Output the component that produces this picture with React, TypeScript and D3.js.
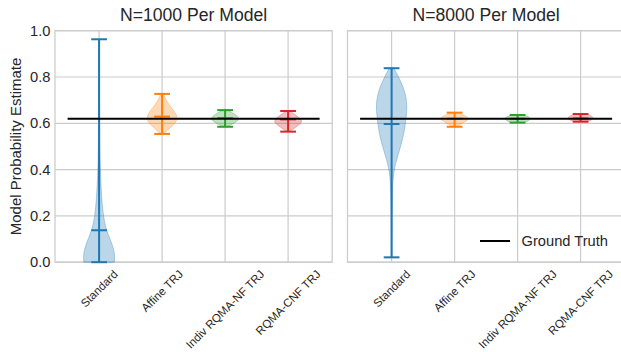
import React, { useRef, useEffect } from 'react'
import * as d3 from 'd3'

// category names and panel titles
const categories = ['Standard', 'Affine TRJ', 'Indiv RQMA-NF TRJ', 'RQMA-CNF TRJ']
const panelTitles = ['N=1000 Per Model', 'N=8000 Per Model']
const colors = ['#1f77b4', '#ff7f0e', '#2ca02c', '#d62728']
const yTicks = [0, 0.2, 0.4, 0.6, 0.8, 1.0]
const groundTruth = 0.62

// per model summary values
const minsN1000 = [0.0, 0.554, 0.585, 0.564]
const maxsN1000 = [0.963, 0.727, 0.657, 0.653]
const mediansN1000 = [0.138, 0.629, 0.622, 0.617]
const minsN8000 = [0.021, 0.585, 0.603, 0.607]
const maxsN8000 = [0.838, 0.646, 0.636, 0.64]
const mediansN8000 = [0.597, 0.62, 0.62, 0.621]

// violin outlines: [value, relative width]
const profilesN1000 = [
  [[0, 0.97], [0.03, 1], [0.06, 0.92], [0.1, 0.7], [0.14, 0.45], [0.2, 0.27], [0.28, 0.16], [0.36, 0.1], [0.45, 0.06], [0.55, 0.04], [0.7, 0.025], [0.85, 0.02], [0.963, 0.015]],
  [[0.554, 0.1], [0.58, 0.5], [0.6, 0.85], [0.625, 1], [0.65, 0.8], [0.675, 0.5], [0.7, 0.25], [0.727, 0.08]],
  [[0.585, 0.15], [0.6, 0.55], [0.62, 1], [0.64, 0.6], [0.657, 0.15]],
  [[0.564, 0.1], [0.585, 0.5], [0.607, 1], [0.63, 0.6], [0.653, 0.12]],
]
const profilesN8000 = [
  [[0.021, 0.02], [0.15, 0.03], [0.3, 0.05], [0.38, 0.1], [0.44, 0.3], [0.5, 0.58], [0.56, 0.8], [0.62, 0.92], [0.68, 1], [0.74, 0.85], [0.8, 0.45], [0.838, 0.15]],
  [[0.585, 0.15], [0.605, 0.6], [0.62, 1], [0.635, 0.6], [0.646, 0.15]],
  [[0.603, 0.4], [0.62, 1], [0.636, 0.4]],
  [[0.607, 0.4], [0.622, 1], [0.64, 0.4]],
]

const panels = [
  { title: panelTitles[0], mins: minsN1000, maxs: maxsN1000, medians: mediansN1000, profiles: profilesN1000, left: 55 },
  { title: panelTitles[1], mins: minsN8000, maxs: maxsN8000, medians: mediansN8000, profiles: profilesN8000, left: 347.5 },
]

const W = 621
const H = 352
const FONT = '"Liberation Sans", Arial, sans-serif'
const TXT = '#262626'

export default function App() {
  const ref = useRef<SVGSVGElement>(null)

  useEffect(() => {
    const svg = d3.select(ref.current)
    svg.selectAll('*').remove()

    const y = d3.scaleLinear().domain([0, 1]).range([262.2, 30.7])
    const unit = 63
    const halfW = unit * 0.25

    panels.forEach((p, pi) => {
      const x = d3.scaleLinear().domain([0.3, 4.7]).range([p.left, p.left + 4.4 * unit])
      const g = svg.append('g')
      const [x0, x1] = x.range()

      // grid
      g.selectAll('line.hg').data(yTicks).join('line')
        .attr('x1', x0).attr('x2', x1)
        .attr('y1', d => y(d)).attr('y2', d => y(d))
        .attr('stroke', '#cccccc').attr('stroke-width', 1.2)
      g.selectAll('line.vg').data(categories).join('line')
        .attr('x1', (d, i) => x(i + 1)).attr('x2', (d, i) => x(i + 1))
        .attr('y1', y(0)).attr('y2', y(1))
        .attr('stroke', '#cccccc').attr('stroke-width', 1.2)

      // frame
      g.append('rect')
        .attr('x', x0).attr('y', y(1))
        .attr('width', x1 - x0).attr('height', y(0) - y(1))
        .attr('fill', 'none').attr('stroke', '#cccccc').attr('stroke-width', 1.25)

      // violins
      p.profiles.forEach((prof, i) => {
        const cx = x(i + 1)
        const area = d3.area<number[]>()
          .y(d => y(d[0]))
          .x0(d => cx - d[1] * halfW)
          .x1(d => cx + d[1] * halfW)
          .curve(d3.curveBasis)
        g.append('path')
          .attr('d', area(prof))
          .attr('fill', colors[i]).attr('fill-opacity', 0.3)
          .attr('stroke', colors[i]).attr('stroke-opacity', 0.3).attr('stroke-width', 1)

        const lc = colors[i]
        const cap = halfW * 0.5
        g.append('line')
          .attr('x1', cx).attr('x2', cx)
          .attr('y1', y(p.mins[i])).attr('y2', y(p.maxs[i]))
          .attr('stroke', lc).attr('stroke-width', 2)
        ;[p.mins[i], p.maxs[i], p.medians[i]].forEach(v => {
          g.append('line')
            .attr('x1', cx - cap).attr('x2', cx + cap)
            .attr('y1', y(v)).attr('y2', y(v))
            .attr('stroke', lc).attr('stroke-width', 2)
        })
      })

      // ground truth
      g.append('line')
        .attr('x1', x(0.5)).attr('x2', x(4.5))
        .attr('y1', y(groundTruth)).attr('y2', y(groundTruth))
        .attr('stroke', '#000').attr('stroke-width', 2)

      // title
      g.append('text')
        .attr('x', (x0 + x1) / 2).attr('y', 21)
        .attr('text-anchor', 'middle')
        .attr('font-family', FONT).attr('font-size', 17.6).attr('fill', TXT)
        .text(p.title)

      // x tick labels (rotated 45, bbox centred on the tick)
      const fs = 11.5
      categories.forEach((c, i) => {
        const t = g.append('text')
          .attr('font-family', FONT).attr('font-size', fs).attr('fill', TXT)
          .attr('text-anchor', 'middle').attr('dominant-baseline', 'central')
          .text(c)
        const w = (t.node() as SVGTextElement).getComputedTextLength()
        const h = fs * 1.0
        const cy = 268 + (w + h) / (2 * Math.SQRT2)
        t.attr('transform', `translate(${x(i + 1)},${cy}) rotate(-45)`)
      })

      if (pi === 0) {
        g.selectAll('text.yt').data(yTicks).join('text')
          .attr('x', 50.5).attr('y', d => y(d))
          .attr('text-anchor', 'end').attr('dominant-baseline', 'central')
          .attr('font-family', FONT).attr('font-size', 14.7).attr('fill', TXT)
          .text(d => d3.format('.1f')(d))
        g.append('text')
          .attr('transform', `translate(21,${(y(0) + y(1)) / 2}) rotate(-90)`)
          .attr('text-anchor', 'middle')
          .attr('font-family', FONT).attr('font-size', 15).attr('fill', TXT)
          .text('Model Probability Estimate')
      } else {
        // legend
        g.append('line')
          .attr('x1', 480).attr('x2', 510).attr('y1', 241).attr('y2', 241)
          .attr('stroke', '#000').attr('stroke-width', 2)
        g.append('text')
          .attr('x', 521.5).attr('y', 241)
          .attr('dominant-baseline', 'central')
          .attr('font-family', FONT).attr('font-size', 14.7).attr('fill', TXT)
          .text('Ground Truth')
      }
    })
  }, [])

  return (
    <svg ref={ref} width={W} height={H}
      style={{ position: 'absolute', left: 0, top: 0, background: '#fff' }} />
  )
}
